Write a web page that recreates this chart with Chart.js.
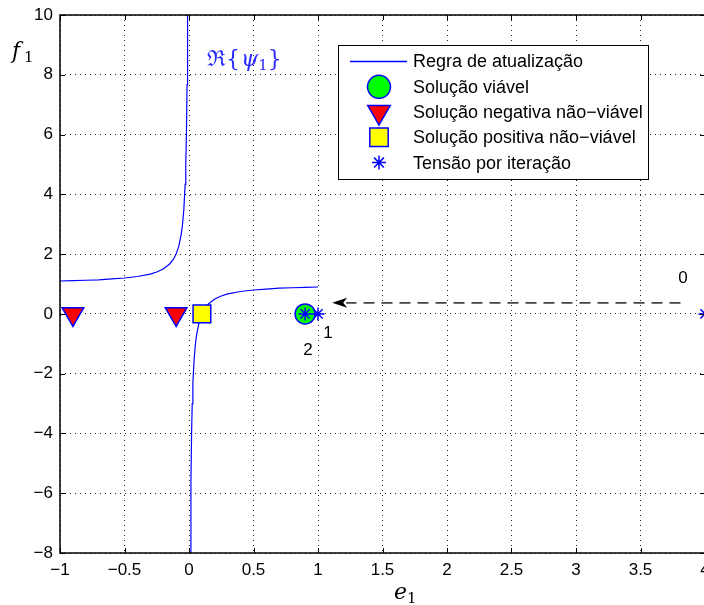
<!DOCTYPE html>
<html>
<head>
<meta charset="utf-8">
<script src="https://cdn.jsdelivr.net/npm/chart.js@4.4.0/dist/chart.umd.min.js"></script>
<style>
  html, body { margin: 0; padding: 0; background: #fff; overflow: hidden; }
  #wrap { position: relative; width: 712px; height: 605px; }
</style>
</head>
<body>
<div id="wrap"><canvas id="chart" width="712" height="605"></canvas></div>
<script>
/* ---------- data ---------- */
// update rule, left branch (e1 < 0)
const leftE = [-1, -0.9, -0.8, -0.7, -0.6, -0.5, -0.4, -0.3, -0.25, -0.2, -0.15, -0.12, -0.1, -0.08, -0.06, -0.05, -0.04, -0.03, -0.025, -0.02, -0.015, -0.0111];
const leftF = [1.1, 1.11, 1.125, 1.14, 1.17, 1.2, 1.25, 1.33, 1.4, 1.5, 1.67, 1.83, 2.0, 2.25, 2.67, 3.0, 3.5, 4.33, 5.0, 6.0, 7.67, 10];
// update rule, right branch (e1 > 0)
const rightE = [0.0111, 0.015, 0.02, 0.025, 0.03, 0.04, 0.05, 0.06, 0.08, 0.1, 0.12, 0.15, 0.2, 0.25, 0.3, 0.4, 0.5, 0.6, 0.7, 0.8, 0.9, 1.0];
const rightF = [-8, -5.67, -4, -3, -2.33, -1.5, -1, -0.67, -0.25, 0, 0.17, 0.33, 0.5, 0.6, 0.67, 0.75, 0.8, 0.83, 0.86, 0.875, 0.89, 0.9];

const viableE = [0.9];
const viableF = [0];
const negE = [-0.9, -0.1];
const negF = [0, 0];
const posE = [0.1];
const posF = [0];
const iterE = [4, 1, 0.9];
const iterF = [0, 0, 0];
const iterLabels = ['0', '1', '2'];

const arrowFrom = [3.81, 0.37];
const arrowTo = [1.11, 0.37];

const xTicks = [-1, -0.5, 0, 0.5, 1, 1.5, 2, 2.5, 3, 3.5, 4];
const yTicks = [-8, -6, -4, -2, 0, 2, 4, 6, 8, 10];

const legendLabels = ['Regra de atualização', 'Solução viável', 'Solução negativa não−viável', 'Solução positiva não−viável', 'Tensão por iteração'];

/* ---------- helpers ---------- */
const BLUE = '#0000ff';
const SANS = '"Liberation Sans", Arial, sans-serif';
const SERIF = '"DejaVu Serif", "Liberation Serif", serif';

function pts(xs, ys) { return xs.map((x, i) => ({ x: x, y: ys[i] })); }
function fmt(v) { return String(v).replace('-', '\u2212'); }

const styles = {
  viable: { pointStyle: 'circle', radius: 10, rotation: 0, bg: '#00ff00' },
  neg: { pointStyle: 'triangle', radius: 12.5, rotation: 180, bg: '#ff0000' },
  pos: { pointStyle: 'rect', radius: 12.5, rotation: 0, bg: '#ffff00' },
  iter: { pointStyle: 'star', radius: 6.5, rotation: 0, bg: BLUE }
};

function markerDataset(data, st, order, bw) {
  return {
    data: data, showLine: false, order: order,
    pointStyle: st.pointStyle, pointRadius: st.radius, pointRotation: st.rotation,
    pointBackgroundColor: st.bg, pointBorderColor: BLUE, pointBorderWidth: bw,
    pointHoverRadius: st.radius
  };
}

// text offsets (px) of the iteration numbers from their points
const labelOffsets = [[-22, -36], [10, 19], [3, 36]];

const overlay = {
  id: 'overlay',
  afterDraw(chart) {
    const ctx = chart.ctx;
    const a = chart.chartArea;
    const xs = chart.scales.x, ys = chart.scales.y;
    ctx.save();

    // inward tick marks
    ctx.strokeStyle = '#000';
    ctx.lineWidth = 1;
    ctx.beginPath();
    xTicks.forEach(v => {
      const px = Math.round(xs.getPixelForValue(v)) + 0.5;
      ctx.moveTo(px, a.bottom); ctx.lineTo(px, a.bottom - 5);
      ctx.moveTo(px, a.top); ctx.lineTo(px, a.top + 5);
    });
    yTicks.forEach(v => {
      const py = Math.round(ys.getPixelForValue(v)) + 0.5;
      ctx.moveTo(a.left, py); ctx.lineTo(a.left + 5, py);
      ctx.moveTo(a.right, py); ctx.lineTo(a.right - 5, py);
    });
    ctx.stroke();

    // box
    ctx.lineWidth = 1.5;
    ctx.strokeRect(a.left, a.top, a.right - a.left, a.bottom - a.top);

    // dashed arrow
    const x0 = xs.getPixelForValue(arrowFrom[0]), y0 = ys.getPixelForValue(arrowFrom[1]);
    const x1 = xs.getPixelForValue(arrowTo[0]), y1 = ys.getPixelForValue(arrowTo[1]);
    ctx.strokeStyle = '#444';
    ctx.lineWidth = 1.6;
    ctx.setLineDash([11, 7]);
    ctx.beginPath();
    ctx.moveTo(x0, y0); ctx.lineTo(x1 + 14, y1);
    ctx.stroke();
    ctx.setLineDash([]);
    ctx.fillStyle = '#000';
    ctx.beginPath();
    ctx.moveTo(x1, y1);
    ctx.lineTo(x1 + 15, y1 - 5);
    ctx.lineTo(x1 + 11, y1);
    ctx.lineTo(x1 + 15, y1 + 5);
    ctx.closePath();
    ctx.fill();

    // iteration numbers
    ctx.font = '17px ' + SANS;
    ctx.textAlign = 'center';
    ctx.textBaseline = 'middle';
    ctx.fillStyle = '#000';
    iterLabels.forEach((t, i) => {
      const px = xs.getPixelForValue(iterE[i]) + labelOffsets[i][0];
      const py = ys.getPixelForValue(iterF[i]) + labelOffsets[i][1];
      ctx.fillText(t, px, py);
    });

    // curve annotation  Re{psi_1}
    ctx.fillStyle = '#2a2aff';
    ctx.textAlign = 'left';
    ctx.textBaseline = 'alphabetic';
    let tx = 207, ty = 66;
    ctx.font = '22px ' + SERIF;
    ctx.fillText('\u211C{', tx, ty); tx += ctx.measureText('\u211C{').width + 1;
    ctx.font = 'italic 22px ' + SERIF;
    ctx.fillText('\u03C8', tx, ty); tx += ctx.measureText('\u03C8').width;
    ctx.font = '15px ' + SERIF;
    ctx.fillText('1', tx, ty + 4); tx += ctx.measureText('1').width;
    ctx.font = '22px ' + SERIF;
    ctx.fillText('}', tx, ty);

    // axis titles
    ctx.fillStyle = '#000';
    ctx.font = 'italic 22px ' + SERIF;
    ctx.fillText('f', 12, 58);
    ctx.font = '15px ' + SERIF;
    ctx.fillText('1', 24, 62);
    ctx.font = 'italic 22px ' + SERIF;
    ctx.fillText('e', 394, 599);
    ctx.font = '15px ' + SERIF;
    ctx.fillText('1', 407, 603);

    // legend
    const lx = 338, ly = 45, lw = 310, lh = 134;
    ctx.fillStyle = '#fff';
    ctx.fillRect(lx, ly, lw, lh);
    ctx.strokeStyle = '#000';
    ctx.lineWidth = 1;
    ctx.strokeRect(lx + 0.5, ly + 0.5, lw, lh);
    const rowY = [61.5, 86.8, 112, 137.3, 162.6];
    const mx = 379;
    ctx.strokeStyle = BLUE;
    ctx.lineWidth = 1.5;
    ctx.beginPath();
    ctx.moveTo(350, rowY[0]); ctx.lineTo(407, rowY[0]);
    ctx.stroke();
    const legendStyles = [styles.viable, styles.neg, styles.pos, styles.iter];
    legendStyles.forEach((st, i) => {
      ctx.fillStyle = st.bg;
      ctx.strokeStyle = BLUE;
      ctx.lineWidth = 1.5;
      const r = st.pointStyle === 'circle' ? 11.5 : st.radius + 0.5;
      Chart.helpers.drawPoint(ctx, { pointStyle: st.pointStyle, radius: r, rotation: st.rotation, borderWidth: ctx.lineWidth }, mx, rowY[i + 1]);
    });
    ctx.fillStyle = '#000';
    ctx.font = '18px ' + SANS;
    ctx.textBaseline = 'middle';
    legendLabels.forEach((t, i) => ctx.fillText(t, 413, rowY[i] + 1));

    ctx.restore();
  }
};

const lineStyle = { showLine: true, pointRadius: 0, borderColor: BLUE, borderWidth: 1.2, order: 5, tension: 0 };

function noPad(s) { s.paddingLeft = 0; s.paddingRight = 0; s.paddingTop = 0; s.paddingBottom = 0; }

new Chart(document.getElementById('chart'), {
  type: 'scatter',
  data: {
    datasets: [
      Object.assign({ data: pts(leftE, leftF) }, lineStyle),
      Object.assign({ data: pts(rightE, rightF) }, lineStyle),
      markerDataset(pts(posE, posF), styles.pos, 4, 1.5),
      markerDataset(pts(negE, negF), styles.neg, 3, 1.5),
      markerDataset(pts(viableE, viableF), styles.viable, 2, 1.5),
      markerDataset(pts(iterE, iterF), styles.iter, 1, 1.5)
    ]
  },
  options: {
    responsive: false,
    animation: false,
    events: [],
    layout: { autoPadding: false, padding: { left: 0, right: 7, top: 15, bottom: 0 } },
    plugins: { legend: { display: false }, tooltip: { enabled: false } },
    scales: {
      x: {
        type: 'linear', min: -1, max: 4,
        afterBuildTicks: s => { s.ticks = xTicks.map(v => ({ value: v })); },
        afterFit: s => { s.height = 52; noPad(s); },
        grid: { color: '#222', lineWidth: 1, drawTicks: false },
        border: { display: false, dash: [1, 4] },
        ticks: { color: '#000', font: { family: SANS, size: 17 }, padding: 7, autoSkip: false, maxRotation: 0, callback: v => fmt(v) }
      },
      y: {
        type: 'linear', min: -8, max: 10,
        afterBuildTicks: s => { s.ticks = yTicks.map(v => ({ value: v })); },
        afterFit: s => { s.width = 60; noPad(s); },
        grid: { color: '#222', lineWidth: 1, drawTicks: false },
        border: { display: false, dash: [1, 4] },
        ticks: { color: '#000', font: { family: SANS, size: 17 }, padding: 7, autoSkip: false, callback: v => fmt(v) }
      }
    }
  },
  plugins: [overlay]
});
</script>
</body>
</html>
